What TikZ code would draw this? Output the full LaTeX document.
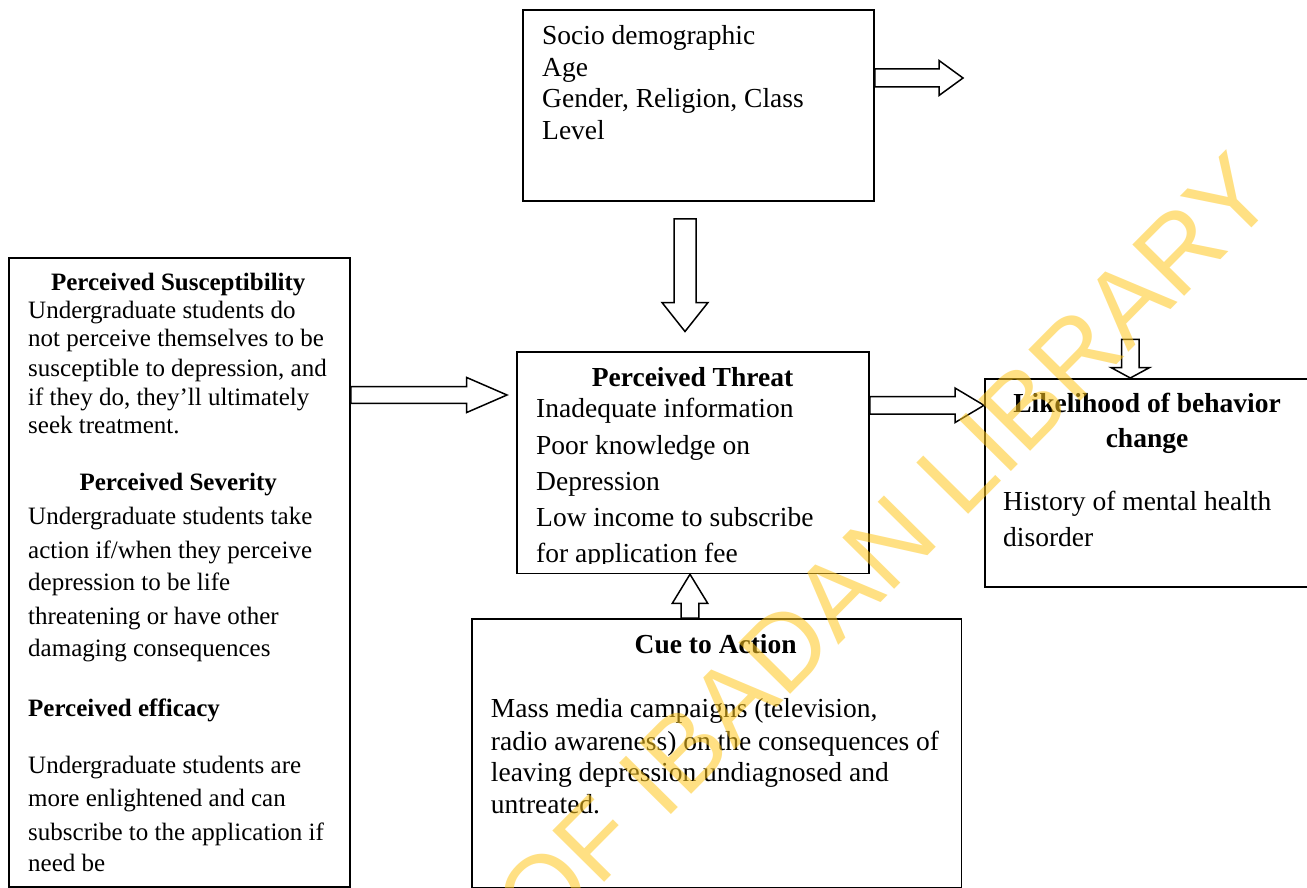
\documentclass[tikz,border=0pt]{standalone}
\usepackage{fontspec}
\setmainfont{Liberation Serif}
\newfontfamily\wmfont{Liberation Sans}
\usetikzlibrary{calc}
\definecolor{wmc}{RGB}{255,200,30}
\tikzset{
  diagbox/.style={draw=black, line width=1.8pt, fill=none, inner sep=0pt, anchor=north west},
  blk/.style={draw=black, line width=1.5pt, fill=white, line join=miter},
  lineL/.style={anchor=base west, inner sep=0pt, font=\fontsize{27.5}{33}\selectfont},
  lineS/.style={anchor=base west, inner sep=0pt, font=\fontsize{25}{30}\selectfont},
  titleL/.style={anchor=base, inner sep=0pt, font=\fontsize{27.5}{33}\selectfont\bfseries},
  titleS/.style={anchor=base, inner sep=0pt, font=\fontsize{25}{30}\selectfont\bfseries},
  wmark/.style={anchor=base west, inner sep=0pt, rotate=45.3, font=\wmfont\fontsize{106}{120}\selectfont, text=wmc, text opacity=0.55}
}
% horizontal block arrow: start, tip, half shaft, half head, signed head length
\newcommand{\hblock}[5]{%
  \draw[blk] ($(#1)+(0,-#3)$) -- ($(#2)+(-#5,-#3)$) -- ($(#2)+(-#5,-#4)$) -- (#2)
    -- ($(#2)+(-#5,#4)$) -- ($(#2)+(-#5,#3)$) -- ($(#1)+(0,#3)$) -- cycle;}
% vertical block arrow: start, tip, half shaft, half head, signed head length
\newcommand{\vblock}[5]{%
  \draw[blk] ($(#1)+(-#3,0)$) -- ($(#2)+(-#3,-#5)$) -- ($(#2)+(-#4,-#5)$) -- (#2)
    -- ($(#2)+(#4,-#5)$) -- ($(#2)+(#3,-#5)$) -- ($(#1)+(#3,0)$) -- cycle;}
\begin{document}
\begin{tikzpicture}[x=1pt,y=-1pt]
\useasboundingbox (0,0) rectangle (1307,888);
\begin{scope}
\clip (0,0) rectangle (1307,888);
\fill[white] (0,0) rectangle (1307,888);

% boxes
\node[diagbox, minimum width=351pt, minimum height=191pt] (socio) at (522,9) {};
\node[diagbox, minimum width=352pt, minimum height=221.5pt] (threat) at (516,351) {};
\node[diagbox, minimum width=346pt, minimum height=208pt] (likeli) at (984,378) {};
\node[diagbox, minimum width=341pt, minimum height=629pt] (susc) at (8,257) {};
\node[diagbox, minimum width=489.5pt, minimum height=268.5pt] (cue) at (471,618) {};

% socio demographic text
\node[lineL] (so1) at (542,45) {Socio demographic};
\node[lineL] (so2) at (542,76.5) {Age};
\node[lineL] (so3) at (542,108) {Gender, Religion, Class};
\node[lineL] (so4) at (542,139.5) {Level};

% perceived threat text
\node[titleL] (th0) at (692.5,386.7) {Perceived Threat};
\node[lineL] (th1) at (536,417.7) {Inadequate information};
\node[lineL] (th2) at (536,454) {Poor knowledge on};
\node[lineL] (th3) at (536,490) {Depression};
\node[lineL] (th4) at (536,526.7) {Low income to subscribe};
\begin{scope}
\clip (516,351) rectangle (868,563.5);
\node[lineL] (th5) at (536,562.5) {for application fee};
\end{scope}

% likelihood text
\node[titleL] (li0) at (1147,412.7) {Likelihood of behavior};
\node[titleL] (li1) at (1147,447.5) {change};
\node[lineL] (li2) at (1003,510) {History of mental health};
\node[lineL] (li3) at (1003,546.7) {disorder};

% left box text
\node[titleS] (su0) at (178.3,290) {Perceived Susceptibility};
\node[lineS] (su1) at (28,318.3) {Undergraduate students do};
\node[lineS] (su2) at (28,346.7) {not perceive themselves to be};
\node[lineS] (su3) at (28,376) {susceptible to depression, and};
\node[lineS] (su4) at (28,405) {if they do, they’ll ultimately};
\node[lineS] (su5) at (28,433.3) {seek treatment.};
\node[titleS] (se0) at (178.3,490.7) {Perceived Severity};
\node[lineS] (se1) at (28,524) {Undergraduate students take};
\node[lineS] (se2) at (28,558) {action if/when they perceive};
\node[lineS] (se3) at (28,590.7) {depression to be life};
\node[lineS] (se4) at (28,624) {threatening or have other};
\node[lineS] (se5) at (28,656.7) {damaging consequences};
\node[lineS, font=\fontsize{25}{30}\selectfont\bfseries] (ef0) at (28,716) {Perceived efficacy};
\node[lineS] (ef1) at (28,773.3) {Undergraduate students are};
\node[lineS] (ef2) at (28,806.7) {more enlightened and can};
\node[lineS] (ef3) at (28,840) {subscribe to the application if};
\node[lineS] (ef4) at (28,871.7) {need be};

% cue to action text
\node[titleL] (cu0) at (715.7,653.3) {Cue to Action};
\node[lineL] (cu1) at (490.7,717.3) {Mass media campaigns (television,};
\node[lineL] (cu2) at (490.7,750.7) {radio awareness) on the consequences of};
\node[lineL] (cu3) at (490.7,781.7) {leaving depression undiagnosed and};
\node[lineL] (cu4) at (490.7,813.3) {untreated.};

% helper coordinates
\coordinate (c1) at (0,78);
\coordinate (sdout) at (963,78);
\coordinate (c2) at (685,0);
\coordinate (c3) at (0,395);
\coordinate (c4) at (0,405.3);
\coordinate (c5) at (690,0);
\coordinate (c6) at (1130.3,0);
\coordinate (lkin) at (1130.3,339.3);

% block arrows
\hblock{socio.east |- c1}{sdout}{9}{17.5}{24}
\vblock{$(socio.south -| c2)+(0,17)$}{$(threat.north -| c2)+(0,-19.5)$}{11}{23}{29}
\hblock{susc.east |- c3}{$(threat.west |- c3)+(-9,0)$}{8.3}{17.5}{40.3}
\hblock{threat.east |- c4}{likeli.west |- c4}{8.7}{17.3}{29}
\vblock{cue.north -| c5}{threat.south -| c5}{8.8}{17.7}{-29}
\vblock{lkin}{likeli.north -| c6}{8.7}{19.2}{10.4}

% watermark
\node[wmark] (wm) at (540,947.5) {OF IBADAN LIBRARY};
\end{scope}
\end{tikzpicture}
\end{document}
